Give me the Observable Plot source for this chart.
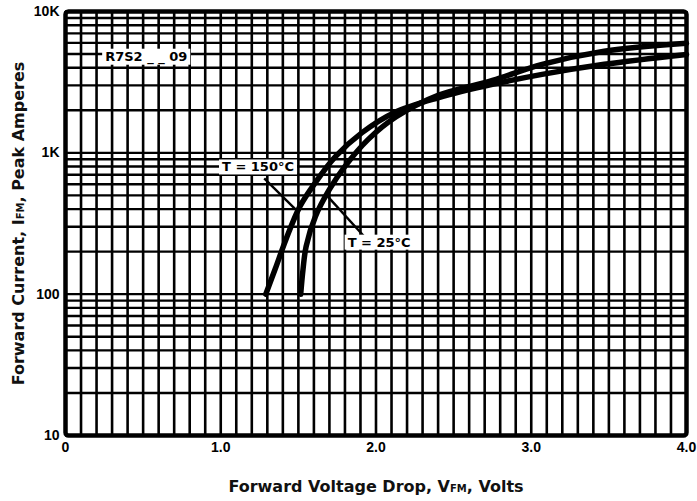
<!DOCTYPE html>
<html>
<head>
<meta charset="utf-8">
<script src="https://cdn.jsdelivr.net/npm/d3@7"></script>
<script src="https://cdn.jsdelivr.net/npm/@observablehq/plot@0.6"></script>
<style>
  html, body { margin: 0; padding: 0; background: #fff; }
  #chart { width: 697px; height: 501px; }
</style>
</head>
<body>
<div id="chart"></div>
<script>
// ---- data ----
const v150 = [1.29, 1.35, 1.42, 1.51, 1.61, 1.74, 1.91, 2.12, 2.40, 2.75, 3.07, 3.47, 4.00];
const i150 = [100, 150, 244, 418, 617, 944, 1390, 1930, 2450, 3050, 3590, 4230, 4970];
const v25 = [1.515, 1.53, 1.55, 1.61, 1.70, 1.80, 1.95, 2.13, 2.40, 2.75, 3.07, 3.47, 4.00];
const i25 = [100, 150, 218, 355, 551, 802, 1245, 1800, 2550, 3250, 4230, 5230, 5950];

const xTicks = [0, 1, 2, 3, 4];
const xTickLabels = ["0", "1.0", "2.0", "3.0", "4.0"];
const yTicks = [10, 100, 1000, 10000];
const yTickLabels = ["10", "100", "1K", "10K"];

const xGrid = d3.range(0, 41).map(i => i / 10);
const yGrid = [10, 100, 1000].flatMap(d => [1, 2, 3, 4, 5, 6, 7, 8, 9].map(k => k * d)).concat([10000]);

const annLabels = ["R7S2 _ _ 09", "T = 150°C", "T = 25°C"];
const annX = [0.52, 1.24, 2.02];
const annY = [4800, 790, 232];
const leadX1 = [1.28, 1.69];
const leadY1 = [660, 490];
const leadX2 = [1.48, 1.93];
const leadY2 = [400, 252];

const xTitle = ["Forward Voltage Drop, V", "FM", ", Volts"];
const yTitle = ["Forward Current, I", "FM", ", Peak Amperes"];

// ---- build ----
const curves = [
  ...v150.map((v, k) => ({v, i: i150[k], s: "150"})),
  ...v25.map((v, k) => ({v, i: i25[k], s: "25"}))
];
const ann = annLabels.map((t, k) => ({t, x: annX[k], y: annY[k]}));
const leads = leadX1.map((x, k) => ({x1: x, y1: leadY1[k], x2: leadX2[k], y2: leadY2[k]}));

const titleFont = "'DejaVu Sans', Verdana, sans-serif";

const chart = Plot.plot({
  width: 697,
  height: 501,
  marginLeft: 65,
  marginRight: 11,
  marginTop: 11,
  marginBottom: 66,
  style: {fontFamily: "'Liberation Sans', Arial, sans-serif", fontSize: "14px", color: "#000", background: "#fff"},
  x: {domain: [0, 4], ticks: xTicks, tickFormat: d => xTickLabels[xTicks.indexOf(d)], tickSize: 0, tickPadding: 7, label: null},
  y: {type: "log", domain: [10, 10000], ticks: yTicks, tickFormat: d => yTickLabels[yTicks.indexOf(d)], tickSize: 0, tickPadding: 6, label: null},
  marks: [
    Plot.ruleX(xGrid, {stroke: "#000", strokeWidth: 2.6}),
    Plot.ruleY(yGrid, {stroke: "#000", strokeWidth: 2.4}),
    Plot.line(curves, {x: "v", y: "i", z: "s", stroke: "#000", strokeWidth: 5.5, curve: "catmull-rom"}),
    Plot.link(leads, {x1: "x1", y1: "y1", x2: "x2", y2: "y2", stroke: "#000", strokeWidth: 2.4}),
    Plot.text(ann, {x: "x", y: "y", text: "t", fontSize: 13, fontWeight: "bold", fontFamily: titleFont, fill: "#000"}),
    Plot.text([xTitle[0]], {frameAnchor: "bottom", dy: 56, fontSize: 16, fontWeight: "bold", fontFamily: titleFont, fill: "#111"}),
    Plot.text([yTitle[0]], {frameAnchor: "left", textAnchor: "middle", rotate: -90, dx: -47, fontSize: 16, fontWeight: "bold", fontFamily: titleFont, fill: "#111"}),
    Plot.frame({stroke: "#000", strokeWidth: 4.5, rx: 3})
  ]
});

document.getElementById("chart").appendChild(chart);
const svg = d3.select(chart);

// tick labels bold
svg.selectAll("g[aria-label$='tick label']").attr("font-weight", "bold");

const allText = svg.selectAll("text");

// subscripts in titles
function addSub(parts) {
  allText.filter(function() { return this.textContent === parts[0]; }).each(function() {
    const t = d3.select(this);
    t.selectAll("*").remove();
    t.text(null);
    t.attr("text-anchor", "middle");
    t.append("tspan").text(parts[0]);
    t.append("tspan").attr("font-size", 10).text(parts[1]);
    t.append("tspan").text(parts[2]);
  });
}
addSub(xTitle);
addSub(yTitle);

// white boxes behind annotations
allText.filter(function() { return annLabels.includes(this.textContent); }).each(function() {
  const bb = this.getBBox();
  const tr = this.getAttribute("transform") || "";
  const node = this;
  d3.select(this.parentNode).insert("rect", () => node)
    .attr("x", bb.x - 3).attr("y", bb.y).attr("width", bb.width + 6).attr("height", bb.height)
    .attr("transform", tr).attr("fill", "#fff");
});
</script>
</body>
</html>
